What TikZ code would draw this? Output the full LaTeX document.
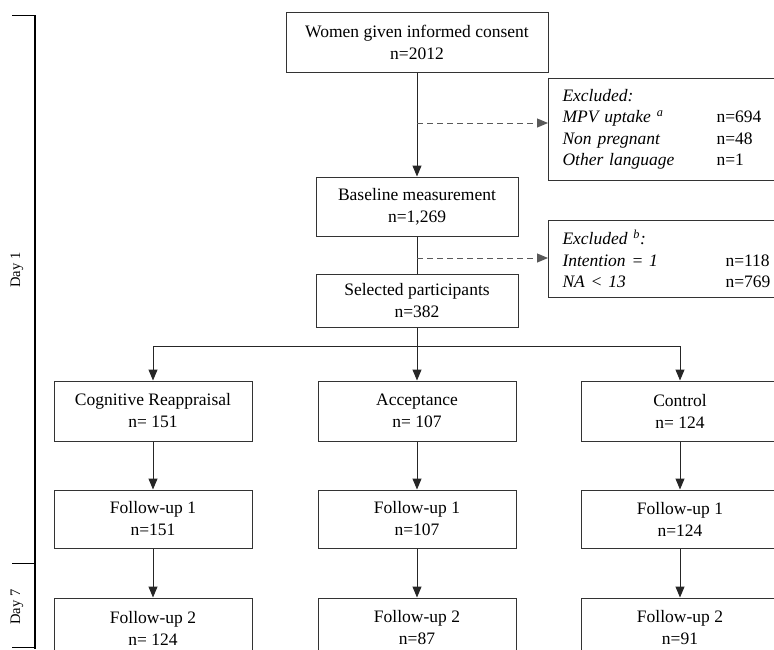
\documentclass[tikz,border=0pt]{standalone}
\usepackage{fontspec}
\setmainfont{Liberation Serif}
\usetikzlibrary{arrows.meta, positioning}

\begin{document}
\begin{tikzpicture}[
    x=1pt, y=-1pt,
    node distance=48pt,
    >={Triangle[width=9pt,length=11pt]},
    block/.style={rectangle, draw=black!80, line width=1pt, align=center,
                  minimum width=198pt, minimum height=58pt,
                  font=\fontsize{17.5}{22}\selectfont},
    excl/.style={rectangle, draw=black!80, line width=1pt, anchor=north west,
                 text width=212pt, inner xsep=14pt, inner ysep=0pt, align=left,
                 font=\fontsize{17.5}{21.5}\selectfont},
    daylabel/.style={rotate=90, font=\fontsize{14.5}{16}\selectfont},
    link/.style={->, line width=1pt, black!85},
    skip/.style={->, line width=1pt, black!65, dash pattern=on 6pt off 4pt}]
\clip (0,0) rectangle (774,649);

% time line on the left
\draw[line width=1.2pt] (35,15) -- (35,649);
\draw[line width=0.8pt] (12,15) -- (35,15) (12,563) -- (35,563) (12,647) -- (35,647);
\node[daylabel] (dayone) at (17,270) {Day 1};
\node[daylabel] (dayseven) at (17,607) {Day 7};

% screening
\node[block, minimum width=262pt, minimum height=60pt] (consent) at (417,42)
    {Women given informed consent\\n=2012};
\node[block, minimum width=202pt, minimum height=59pt] (baseline) at (417,206.5)
    {Baseline measurement\\n=1,269};
\node[block, minimum width=202pt, minimum height=53pt] (selected) at (417,300.5)
    {Selected participants\\n=382};

\node[excl, minimum height=102pt] (exclone) at (548,78)
    {\textit{Excluded:}\\
     \makebox[154pt][l]{\itshape MPV uptake \textsuperscript{a}}n=694\\
     \makebox[154pt][l]{\itshape Non pregnant}n=48\\
     \makebox[154pt][l]{\itshape Other language}n=1};
\node[excl, minimum height=77pt] (excltwo) at (548,220)
    {\textit{Excluded \textsuperscript{b}:}\\
     \makebox[163pt][l]{\itshape Intention = 1}n=118\\
     \makebox[163pt][l]{\itshape NA < 13}n=769};

\coordinate (jone) at (417,123);
\coordinate (jtwo) at (417,258);
\coordinate (split) at (417,346);

% arms
\node[block, minimum height=60pt] (reapp) at (153,411) {Cognitive Reappraisal\\n= 151};
\node[block, minimum height=60pt] (accept) at (417,411) {Acceptance\\n= 107};
\node[block, minimum height=60pt] (control) at (680,411) {Control\\n= 124};

\node[block, below=of reapp] (reappfirst) {Follow-up 1\\n=151};
\node[block, below=of accept] (acceptfirst) {Follow-up 1\\n=107};
\node[block, below=of control] (controlfirst) {Follow-up 1\\n=124};

\node[block, minimum height=60pt, below=49pt of reappfirst] (reappsecond) {Follow-up 2\\n= 124};
\node[block, minimum height=60pt, below=49pt of acceptfirst] (acceptsecond) {Follow-up 2\\n=87};
\node[block, minimum height=60pt, below=49pt of controlfirst] (controlsecond) {Follow-up 2\\n=91};

\draw[link] (consent) -- (baseline);
\draw[skip] (jone) -- (jone -| exclone.west);
\draw[line width=1pt, black!85] (baseline) -- (selected);
\draw[skip] (jtwo) -- (jtwo -| excltwo.west);

\draw[line width=1pt, black!85] (selected.south) -- (split)
    (split -| reapp) -- (split -| control);
\draw[link] (split -| reapp) -- (reapp);
\draw[link] (split) -- (accept);
\draw[link] (split -| control) -- (control);

\draw[link] (reapp) -- (reappfirst);
\draw[link] (accept) -- (acceptfirst);
\draw[link] (control) -- (controlfirst);
\draw[link] (reappfirst) -- (reappsecond);
\draw[link] (acceptfirst) -- (acceptsecond);
\draw[link] (controlfirst) -- (controlsecond);
\end{tikzpicture}
\end{document}
